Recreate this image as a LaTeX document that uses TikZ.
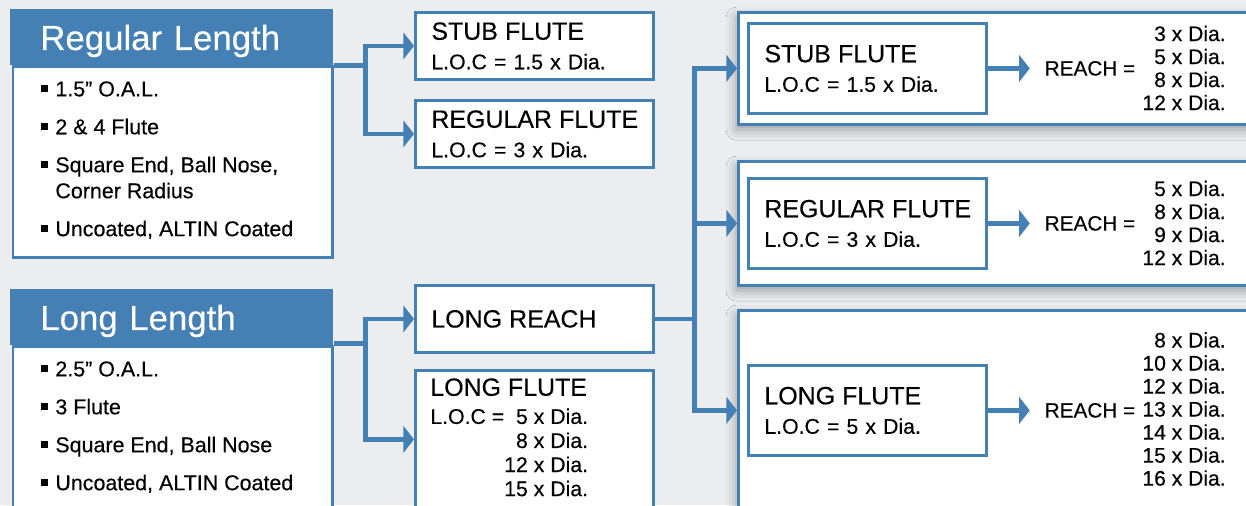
\documentclass[tikz,border=0pt]{standalone}
\usepackage{fontspec}
\setmainfont{Liberation Sans}[FakeBold=0.3]
\usetikzlibrary{arrows.meta,positioning,calc,shadows.blur}

\definecolor{toolblue}{RGB}{69,128,181}
\definecolor{pagegray}{RGB}{236,237,239}
\newcommand{\sqb}{\makebox[8pt][l]{\rule[2.4pt]{4pt}{4pt}}}
\newcommand{\ttl}[1]{\mbox{\fontsize{14.2}{16}\selectfont #1}}

\begin{document}
\begin{tikzpicture}[
    x=0.02cm, y=-0.02cm,
    headbox/.style={rectangle, fill=toolblue, text=white, anchor=north west, minimum width=6.46cm, minimum height=1.12cm, inner xsep=0.6cm, text width=5.26cm, align=left, text depth=0pt, font=\fontsize{19.8}{22}\selectfont},
    bodybox/.style={rectangle, draw=toolblue, fill=white, line width=1.6pt, anchor=north west, minimum width=6.4cm},
    bullets/.style={anchor=north west, inner sep=0pt, align=left, font=\fontsize{12.2}{14.8}\selectfont},
    midbox/.style={rectangle, draw=toolblue, fill=white, line width=1.6pt, anchor=north west, minimum width=4.76cm, minimum height=1.34cm, inner xsep=0.32cm, text width=4.12cm, align=left, font=\fontsize{12.1}{16.8}\selectfont},
    innerbox/.style={midbox, minimum height=1.8cm},
    panel/.style={rectangle, draw=toolblue, fill=white, line width=1.6pt, anchor=north west, minimum width=10.6cm, blur shadow={shadow xshift=-1pt, shadow yshift=-3pt, shadow blur radius=6pt, shadow opacity=35}},
    reachtxt/.style={inner xsep=0.3cm, inner ysep=0pt, outer sep=0pt, font=\fontsize{11.8}{14}\selectfont},
    vals/.style={anchor=east, inner sep=0pt, align=right, font=\fontsize{12}{13.1}\selectfont},
    link/.style={draw=toolblue, line width=2.6pt},
    arrow/.style={link, -{Triangle[length=6pt, width=15pt]}},
]
    \useasboundingbox (0,0) rectangle (1246,505);
    \clip (0,0) rectangle (1246,505);
    \fill[pagegray] (0,0) rectangle (1246,505);

    % left column
    \node[bodybox, minimum height=3.82cm] (regbody) at (11.5,65) {};
    \node[headbox] (reghead) at (10,9) {Regular Length};
    \node[bullets] (reglist) at (41,81) {\sqb 1.5” O.A.L.\\[6.8pt]
        \sqb 2 \& 4 Flute\\[6.8pt]
        \sqb Square End, Ball Nose,\\
        \hspace*{8pt}Corner Radius\\[6.8pt]
        \sqb Uncoated, ALTIN Coated};

    \node[bodybox, minimum height=3.6cm] (longbody) at (11.5,345) {};
    \node[headbox] (longhead) at (10,289) {Long Length};
    \node[bullets] (longlist) at (41,361) {\sqb 2.5” O.A.L.\\[6.8pt]
        \sqb 3 Flute\\[6.8pt]
        \sqb Square End, Ball Nose\\[6.8pt]
        \sqb Uncoated, ALTIN Coated};

    % middle column
    \node[midbox] (stubmid) at (414,11) {\ttl{STUB FLUTE}\\L.O.C = 1.5 x Dia.};
    \node[midbox] (regmid) at (414,99) {\ttl{REGULAR FLUTE}\\L.O.C = 3 x Dia.};
    \node[midbox] (lreach) at (414,284) {\ttl{LONG REACH}};
    \node[midbox, minimum height=3cm] (lflmid) at (414,369) {};
    \node[anchor=north west, inner sep=0pt, font=\fontsize{12.1}{13.7}\selectfont] (lfltxt) at (430,378) {%
        \begin{tabular}{@{}l@{}r@{}}
        \multicolumn{2}{@{}l@{}}{\ttl{LONG FLUTE}}\\[2.3pt]
        L.O.C = & 5 x Dia.\\
        & 8 x Dia.\\
        & 12 x Dia.\\
        & 15 x Dia.
        \end{tabular}};

    % right column
    \node[panel, minimum height=2.24cm] (panelA) at (737,11) {};
    \node[panel, minimum height=2.48cm] (panelB) at (737,160) {};
    \node[panel, minimum height=4.4cm] (panelC) at (737,309) {};

    \node[innerbox] (stubin) at (747,22) {\ttl{STUB FLUTE}\\L.O.C = 1.5 x Dia.};
    \node[innerbox] (regin) at (747,177) {\ttl{REGULAR FLUTE}\\L.O.C = 3 x Dia.};
    \node[innerbox] (lflin) at (747,364) {\ttl{LONG FLUTE}\\L.O.C = 5 x Dia.};

    \node[reachtxt, right=0.84cm of stubin] (reachA) {REACH =};
    \node[reachtxt, right=0.84cm of regin] (reachB) {REACH =};
    \node[reachtxt, right=0.84cm of lflin] (reachC) {REACH =};

    \node[vals] (valsA) at (1226,68) {3 x Dia.\\5 x Dia.\\8 x Dia.\\12 x Dia.};
    \node[vals] (valsB) at (1226,223) {5 x Dia.\\8 x Dia.\\9 x Dia.\\12 x Dia.};
    \node[vals] (valsC) at (1226,409) {8 x Dia.\\10 x Dia.\\12 x Dia.\\13 x Dia.\\14 x Dia.\\15 x Dia.\\16 x Dia.};

    % connectors
    \coordinate (regfork) at ($(reghead.south east)+(32,0)$);
    \coordinate (longfork) at ($(longhead.south east)+(32,-2)$);
    \coordinate (rfork) at ($(lreach.east)+(40,0)$);

    \draw[link] (reghead.south east) -- (regfork);
    \draw[arrow] (regfork) |- (stubmid.west);
    \draw[arrow] (regfork) |- (regmid.west);

    \draw[link] ($(longhead.south east)+(0,-2)$) -- (longfork);
    \draw[arrow] (longfork) |- (lreach.west);
    \draw[arrow] (longfork) |- ([yshift=0.12cm]lflmid.west);

    \draw[link] (lreach.east) -- (rfork);
    \draw[arrow] (rfork) |- (panelA.west |- stubin.west);
    \draw[arrow] (rfork) |- (panelB.west |- regin.west);
    \draw[arrow] (rfork) |- (panelC.west |- lflin.west);

    \draw[arrow] (stubin.east) -- (reachA.west);
    \draw[arrow] (regin.east) -- (reachB.west);
    \draw[arrow] (lflin.east) -- (reachC.west);
\end{tikzpicture}
\end{document}
